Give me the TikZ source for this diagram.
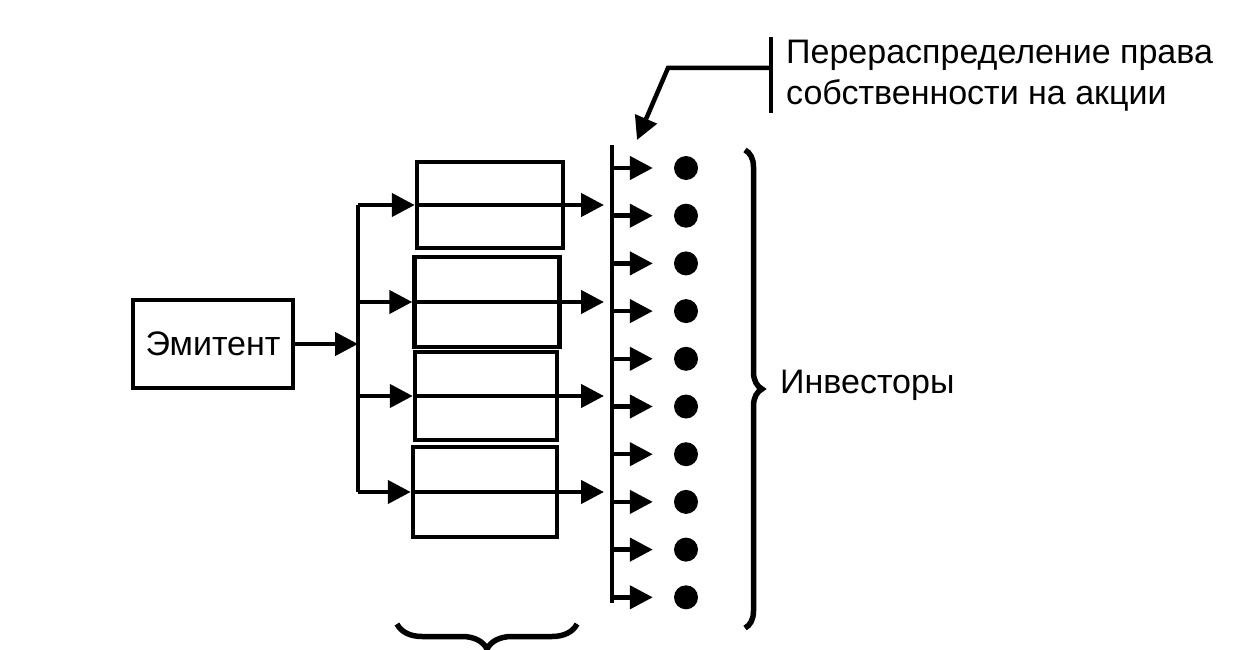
\documentclass[tikz,border=0pt]{standalone}
\usepackage{fontspec}
\setmainfont{Liberation Sans}
\usetikzlibrary{arrows.meta,decorations.pathreplacing}
\begin{document}
\begin{tikzpicture}[x=1pt,y=-1pt,
 ln/.style={line width=4.5pt},
 arr/.style={ln,-{Triangle[length=23pt,width=23pt]}},
 box/.style={draw,line width=4.5pt,inner sep=0pt},
 dot/.style={circle,fill,inner sep=0pt,minimum size=24pt},
 lbl/.style={font=\fontsize{34}{41}\selectfont},
 brc/.style={line width=5.5pt,decorate}
]
\useasboundingbox (0,0) rectangle (1239,650);
% issuer
\node[box,lbl,minimum width=160pt,minimum height=88pt] (e) at (213,344) {Эмитент};
% boxes
\node[box,minimum width=146pt,minimum height=86pt] (b1) at (490,205) {};
\node[box,minimum width=145pt,minimum height=90pt] (b2) at (487,302) {};
\node[box,minimum width=142pt,minimum height=88pt] (b3) at (486,396) {};
\node[box,minimum width=144pt,minimum height=90pt] (b4) at (485,492) {};
% left bus
\coordinate (j1) at (358,205);
\coordinate (j2) at (358,302);
\coordinate (j3) at (358,396);
\coordinate (j4) at (358,492);
\coordinate (jm) at (358,344);
\draw[ln] (j1) -- (j4);
\draw[arr] (e.east) -- (jm);
\foreach \k in {1,2,3,4} {\draw[arr] (j\k) -- (b\k.west);}
% right bus
\coordinate (s0) at (612,145);
\coordinate (s1) at (612,603);
\draw[ln] (s0) -- (s1);
\coordinate (k1) at (604,205);
\coordinate (k2) at (604,302);
\coordinate (k3) at (604,396);
\coordinate (k4) at (604,492);
\foreach \k in {1,2,3,4} {\draw[arr] (b\k.west) -- (k\k);}
% investors
\foreach \i in {0,...,9} {
  \pgfmathsetmacro\yy{168+47.7*\i}
  \coordinate (p\i) at (612,\yy);
  \node[dot] (d\i) at (686,\yy) {};
  \draw[arr,shorten >=21pt] (p\i) -- (d\i.west);
}
% braces
\coordinate (r0) at (745,150);
\coordinate (r1) at (745,628);
\draw[brc,decoration={brace,amplitude=17pt}] (r0) -- (r1);
\coordinate (u0) at (577,624);
\coordinate (u1) at (397,624);
\draw[brc,decoration={brace,amplitude=25pt}] (u0) -- (u1);
\node[lbl,anchor=west,inner sep=0pt] (inv) at (780,385) {Инвесторы};
% top label
\coordinate (barT) at (771,37);
\coordinate (barB) at (771,113);
\coordinate (barM) at (771,68);
\coordinate (knee) at (668,68);
\coordinate (tipA) at (637,140);
\draw[ln] (barT) -- (barB);
\draw[arr] (barM) -- (knee) -- (tipA);
\node[lbl,align=left,anchor=north west,inner sep=0pt] (t) at (786,40) {Перераспределение права\\собственности на акции};
\end{tikzpicture}
\end{document}
